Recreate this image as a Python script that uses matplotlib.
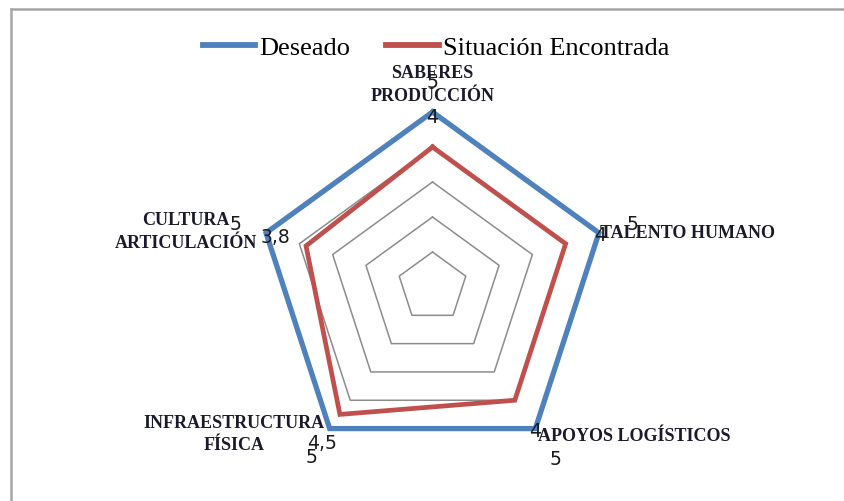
import numpy as np
import matplotlib.pyplot as plt
from matplotlib.lines import Line2D

categorias = ['SABERES\nPRODUCCIÓN', 'TALENTO HUMANO', 'APOYOS LOGÍSTICOS',
              'INFRAESTRUCTURA\nFÍSICA', 'CULTURA\nARTICULACIÓN']
deseado = [5, 5, 5, 5, 5]
encontrada = [4, 4, 4, 4.5, 3.8]
anillos = [1, 2, 3, 4, 5]

AZUL = '#4F81BD'
ROJO = '#C0504D'

fig = plt.figure(figsize=(8.44, 5.02), dpi=100)
ax = fig.add_axes([0.3051, 0.0777, 350 / 844, 350 / 502], projection='polar')
ax.set_theta_offset(np.pi / 2)
ax.set_theta_direction(-1)
ax.set_ylim(0, 5)
ax.grid(False)
ax.spines['polar'].set_visible(False)
ax.set_xticks([])
ax.set_yticks([])
ax.patch.set_alpha(0)

n = len(categorias)
ang = np.linspace(0, 2 * np.pi, n, endpoint=False)
ang_c = np.append(ang, ang[0])

# pentagonos de referencia
for r in anillos:
    ax.plot(ang_c, [r] * (n + 1), color='#8C8C8C', lw=1.1, zorder=1, clip_on=False)

ax.plot(ang_c, deseado + deseado[:1], color=AZUL, lw=3.8, zorder=3,
        clip_on=False, solid_joinstyle='miter')
ax.plot(ang_c, encontrada + encontrada[:1], color=ROJO, lw=3.4, zorder=2,
        clip_on=False, solid_joinstyle='miter')


def etiqueta(s):
    return str(s).replace('.', ',')


# etiquetas de datos (desplazamiento en pixeles respecto al vertice)
desp = [(0, 30), (34, 9), (20, -30), (-18, -28), (-31, 9)]
for i in range(n):
    for serie in (deseado, encontrada):
        ax.annotate(etiqueta(serie[i]), (ang[i], serie[i]), xytext=desp[i],
                    textcoords='offset pixels', ha='center', va='center',
                    fontsize=13.5, family='DejaVu Sans', color='#1a1a1a',
                    zorder=5, annotation_clip=False)

# nombres de las categorias
pos_cat = [((0, 28), 'center'), ((1, 0), 'left'), ((3, -7), 'left'),
           ((-5, -5), 'right'), ((-9, 2), 'right')]
for i, (off, ha) in enumerate(pos_cat):
    ax.annotate(categorias[i], (ang[i], 5), xytext=off, textcoords='offset pixels',
                ha=ha, va='center', multialignment='center', fontsize=13,
                family='Liberation Serif', fontweight='bold', color='#1a1a2a',
                linespacing=1.4, zorder=4, annotation_clip=False)

# leyenda
handles = [Line2D([], [], color=AZUL, lw=4.2), Line2D([], [], color=ROJO, lw=4.2)]
fig.legend(handles, ['Deseado', 'Situación Encontrada'], loc='center',
           bbox_to_anchor=(436 / 844, 1 - 48 / 502), ncol=2, frameon=False,
           prop={'family': 'Liberation Serif', 'size': 19},
           handlelength=2.0, handletextpad=0.15, columnspacing=1.36,
           borderpad=0, borderaxespad=0)

# marco del grafico
fig.add_artist(Line2D([11 / 844, 1], [1 - 10 / 502] * 2, color='#A6A6A6', lw=1.8))
fig.add_artist(Line2D([11 / 844] * 2, [0, 1 - 10 / 502], color='#A6A6A6', lw=1.8))

fig.savefig('out.png', dpi=100)
